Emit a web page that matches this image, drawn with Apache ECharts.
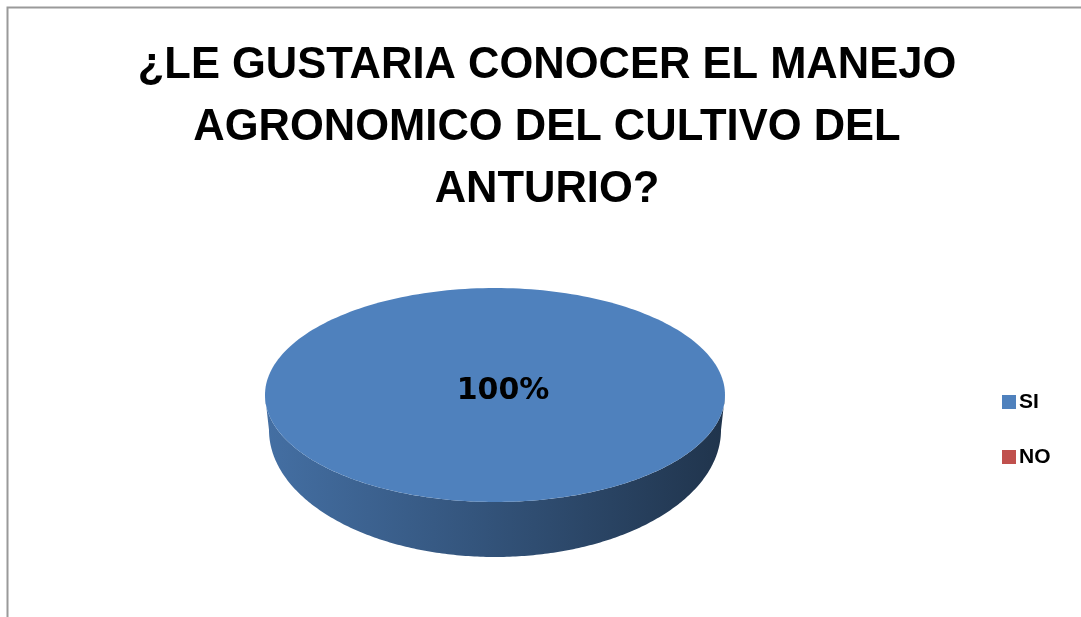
<!DOCTYPE html>
<html>
<head>
<meta charset="utf-8">
<script src="https://cdn.jsdelivr.net/npm/echarts@6/dist/echarts.min.js"></script>
<style>
  html, body { margin: 0; padding: 0; background: #ffffff; }
  #chart { width: 1081px; height: 617px; }
</style>
</head>
<body>
<div id="chart"></div>
<script>
// Survey answers (percent of respondents)
const categories = ['SI', 'NO'];
const values = [100, 0];
const colors = ['#4F81BD', '#C0504D'];
const titleText = '¿LE GUSTARIA CONOCER EL MANEJO\nAGRONOMICO DEL CULTIVO DEL\nANTURIO?';

// Tilted-pie geometry (top face ellipse + lower rim ellipse)
const PIE = { cx: 495, cy: 395, rx: 230, ry: 107, bcy: 430, brx: 226, bry: 127 };

const total = values.reduce((a, b) => a + b, 0);
const starts = [];
values.reduce((acc, v, i) => { starts[i] = acc; return acc + v; }, 0);

function topPoint(a) {
  // a: angle clockwise from 12 o'clock
  return [PIE.cx + PIE.rx * Math.sin(a), PIE.cy - PIE.ry * Math.cos(a)];
}
function bottomPoint(a) {
  return [PIE.cx + PIE.brx * Math.sin(a), PIE.bcy - PIE.bry * Math.cos(a)];
}
function shade(hex, k) {
  const n = parseInt(hex.slice(1), 16);
  const r = Math.round(((n >> 16) & 255) * k);
  const g = Math.round(((n >> 8) & 255) * k);
  const b = Math.round((n & 255) * k);
  return 'rgb(' + r + ',' + g + ',' + b + ')';
}

function makeRender(idx) {
  return function (params, api) {
    const v = api.value(0);
    const frac = total ? v / total : 0;
    if (frac <= 0) return { type: 'group', children: [] };
    const a0 = (starts[idx] / total) * Math.PI * 2;
    const a1 = a0 + frac * Math.PI * 2;
    const color = colors[idx];
    const children = [];
    const steps = 240;

    // side wall on the front half (angles between 90° and 270°)
    const w0 = Math.max(a0, Math.PI / 2);
    const w1 = Math.min(a1, Math.PI * 1.5);
    if (w1 > w0) {
      const pts = [];
      for (let i = 0; i <= steps; i++) pts.push(topPoint(w0 + (w1 - w0) * i / steps));
      for (let i = steps; i >= 0; i--) pts.push(bottomPoint(w0 + (w1 - w0) * i / steps));
      children.push({
        type: 'polygon',
        shape: { points: pts },
        style: {
          fill: new echarts.graphic.LinearGradient(PIE.cx - PIE.rx, 0, PIE.cx + PIE.rx, 0, [
            { offset: 0, color: shade(color, 0.86) },
            { offset: 0.45, color: shade(color, 0.66) },
            { offset: 1, color: shade(color, 0.40) }
          ], true)
        }
      });
    }

    // top face
    const top = [];
    if (frac < 1) top.push([PIE.cx, PIE.cy]);
    for (let i = 0; i <= steps; i++) top.push(topPoint(a0 + (a1 - a0) * i / steps));
    children.push({ type: 'polygon', shape: { points: top }, style: { fill: color } });

    // percentage label
    let lx = PIE.cx, ly = PIE.cy;
    if (frac < 1) {
      const am = (a0 + a1) / 2;
      lx = PIE.cx + 0.6 * PIE.rx * Math.sin(am);
      ly = PIE.cy - 0.6 * PIE.ry * Math.cos(am);
    }
    children.push({
      type: 'text',
      x: lx + 8, y: ly - 4,
      style: {
        text: Math.round(frac * 100) + '%',
        fill: '#000000',
        font: 'bold 30px "DejaVu Sans"',
        align: 'center',
        verticalAlign: 'middle'
      }
    });
    return { type: 'group', children: children };
  };
}

const chart = echarts.init(document.getElementById('chart'), null, { renderer: 'canvas' });

chart.setOption({
  backgroundColor: '#ffffff',
  animation: false,
  color: colors,
  title: {
    text: titleText,
    left: 547,
    top: 35,
    padding: 0,
    textAlign: 'center',
    textStyle: {
      fontFamily: '"Liberation Sans"',
      fontWeight: 'bold',
      fontSize: 43.5,
      lineHeight: 62,
      color: '#000000'
    }
  },
  legend: {
    data: categories,
    orient: 'vertical',
    left: 997,
    top: 386,
    itemWidth: 14,
    itemHeight: 14,
    itemGap: 33,
    icon: 'rect',
    textStyle: {
      fontFamily: '"Liberation Sans"',
      fontWeight: 'bold',
      fontSize: 21,
      lineHeight: 22,
      color: '#000000',
      padding: [0, 0, 0, -2]
    }
  },
  graphic: [{
    type: 'rect',
    left: 5, top: 5,
    shape: { width: 1200, height: 700 },
    style: { fill: 'none', stroke: '#9a9a9a', lineWidth: 2 },
    silent: true
  }],
  series: categories.map((name, i) => ({
    type: 'custom',
    name: name,
    coordinateSystem: 'none',
    itemStyle: { color: colors[i] },
    renderItem: makeRender(i),
    data: [[values[i]]]
  }))
});
</script>
</body>
</html>
